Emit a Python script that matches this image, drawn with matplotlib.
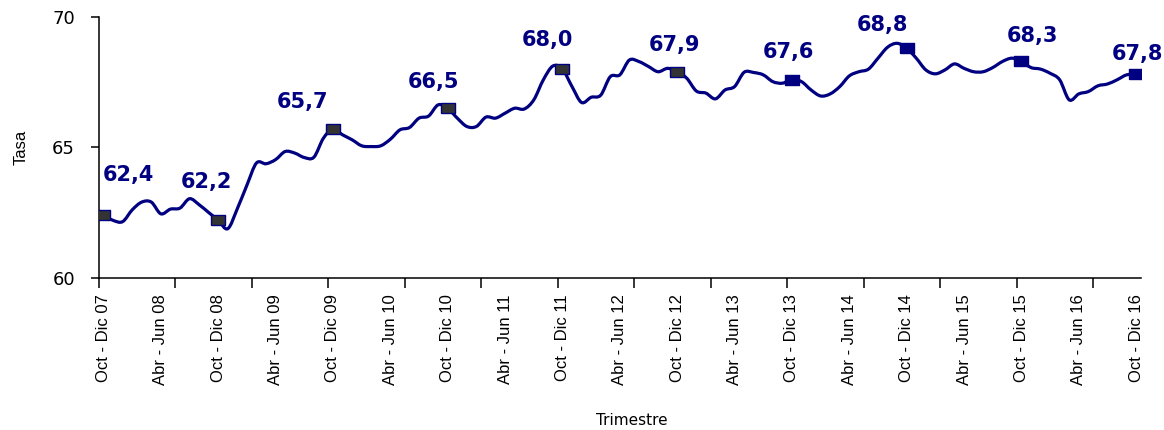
import matplotlib
matplotlib.use("Agg")
import matplotlib.pyplot as plt
from matplotlib.path import Path
from matplotlib.patches import PathPatch
import numpy as np

# tasa por trimestre movil, Oct-Dic 07 .. Oct-Dic 16
tasa = [62.4, 62.2, 62.15, 62.6, 62.9, 62.9, 62.45, 62.63, 62.67, 63.03, 62.8, 62.5,
        62.2, 61.88, 62.65, 63.55, 64.4, 64.37, 64.53, 64.84, 64.78, 64.61, 64.62, 65.35,
        65.7, 65.48, 65.29, 65.06, 65.03, 65.06, 65.31, 65.67, 65.76, 66.12, 66.2, 66.63,
        66.5, 66.12, 65.8, 65.8, 66.16, 66.12, 66.31, 66.5, 66.47, 66.82, 67.59, 68.12,
        68.0, 67.33, 66.72, 66.92, 67.0, 67.71, 67.78, 68.35, 68.29, 68.1, 67.9, 68.03,
        67.9, 67.65, 67.16, 67.08, 66.86, 67.2, 67.33, 67.88, 67.87, 67.78, 67.52, 67.46,
        67.6, 67.52, 67.2, 66.97, 67.05, 67.33, 67.74, 67.9, 68.0, 68.42, 68.84, 68.99,
        68.8, 68.42, 67.97, 67.82, 67.97, 68.2, 68.03, 67.9, 67.9, 68.06, 68.29, 68.42,
        68.3, 68.06, 68.0, 67.84, 67.59, 66.82, 67.05, 67.14, 67.36, 67.43, 67.59, 67.78,
        67.8]
etiquetas = ["Oct - Dic 07", "Abr - Jun 08", "Oct - Dic 08", "Abr - Jun 09", "Oct - Dic 09",
             "Abr - Jun 10", "Oct - Dic 10", "Abr - Jun 11", "Oct - Dic 11", "Abr - Jun 12",
             "Oct - Dic 12", "Abr - Jun 13", "Oct - Dic 13", "Abr - Jun 14", "Oct - Dic 14",
             "Abr - Jun 15", "Oct - Dic 15", "Abr - Jun 16", "Oct - Dic 16"]
idx_marcas = [0, 12, 24, 36, 48, 60, 72, 84, 96, 108]   # Oct-Dic de cada año

NAVY = "#000080"
# desplazamiento manual de cada etiqueta (pixeles)
offs = [(25, 40), (-12, 38), (-30, 27), (-14, 26), (-15, 29), (-3, 27),
        (-4, 28), (-24, 23), (11, 25), (1, 20)]
fills = ["#333333"] * 6 + [NAVY] * 4

x = np.arange(len(tasa))
y = np.array(tasa, dtype=float)

fig = plt.figure(figsize=(11.64, 4.30), dpi=100)
ax = fig.add_axes([0.0848, 0.3542, 0.8954, 0.6063])

# linea suavizada estilo Excel (bezier catmull-rom)
pts = np.column_stack([x, y])
verts = [pts[0]]; codes = [Path.MOVETO]
n = len(pts)
for i in range(n - 1):
    p0 = pts[max(i - 1, 0)]; p1 = pts[i]; p2 = pts[i + 1]; p3 = pts[min(i + 2, n - 1)]
    verts += [p1 + (p2 - p0) / 6, p2 - (p3 - p1) / 6, p2]
    codes += [Path.CURVE4] * 3
ax.add_patch(PathPatch(Path(verts, codes), facecolor="none", edgecolor=NAVY, lw=2.3,
                       capstyle="round", joinstyle="round", zorder=3))

mk = [(-1.35, -1), (1.35, -1), (1.35, 1), (-1.35, 1), (-1.35, -1)]
for k, i in enumerate(idx_marcas):
    ax.plot(x[i], y[i], marker=mk, ms=10, mfc=fills[k], mec=NAVY, mew=1, zorder=4)
    ax.annotate(f"{y[i]:.1f}".replace(".", ","), (x[i], y[i]),
                xytext=(offs[k][0] * 0.72, offs[k][1] * 0.72), textcoords="offset points",
                ha="center", va="center", color=NAVY, fontsize=15, fontweight="bold",
                family="DejaVu Sans", annotation_clip=False)

ax.set_xlim(-0.5, len(tasa) - 0.5)
ax.set_ylim(60, 70)
ax.set_yticks([60, 65, 70])
ax.tick_params(axis="y", direction="out", length=6, width=1.1, pad=11, labelsize=13)
for lb in ax.get_yticklabels():
    lb.set_family("DejaVu Sans")

# marcas cada 8 categorias, etiquetas cada 6
ax.set_xticks(np.arange(-0.5, len(tasa) - 1, 8))
ax.set_xticklabels([])
ax.tick_params(axis="x", which="major", direction="out", length=7, width=1.1)
ax.set_xticks(x[::6], minor=True)
ax.set_xticklabels(etiquetas, minor=True, rotation=90, fontsize=12, family="Liberation Sans")
ax.tick_params(axis="x", which="minor", length=0, pad=12)

for s in ["top", "right"]:
    ax.spines[s].set_visible(False)
for s in ["left", "bottom"]:
    ax.spines[s].set_linewidth(1.1)

ax.set_ylabel("Tasa", fontsize=12, family="Liberation Sans", labelpad=17)
fig.text(0.543, 0.021, "Trimestre", ha="center", va="center", fontsize=11, family="DejaVu Sans")

fig.savefig("out.png", dpi=100)
